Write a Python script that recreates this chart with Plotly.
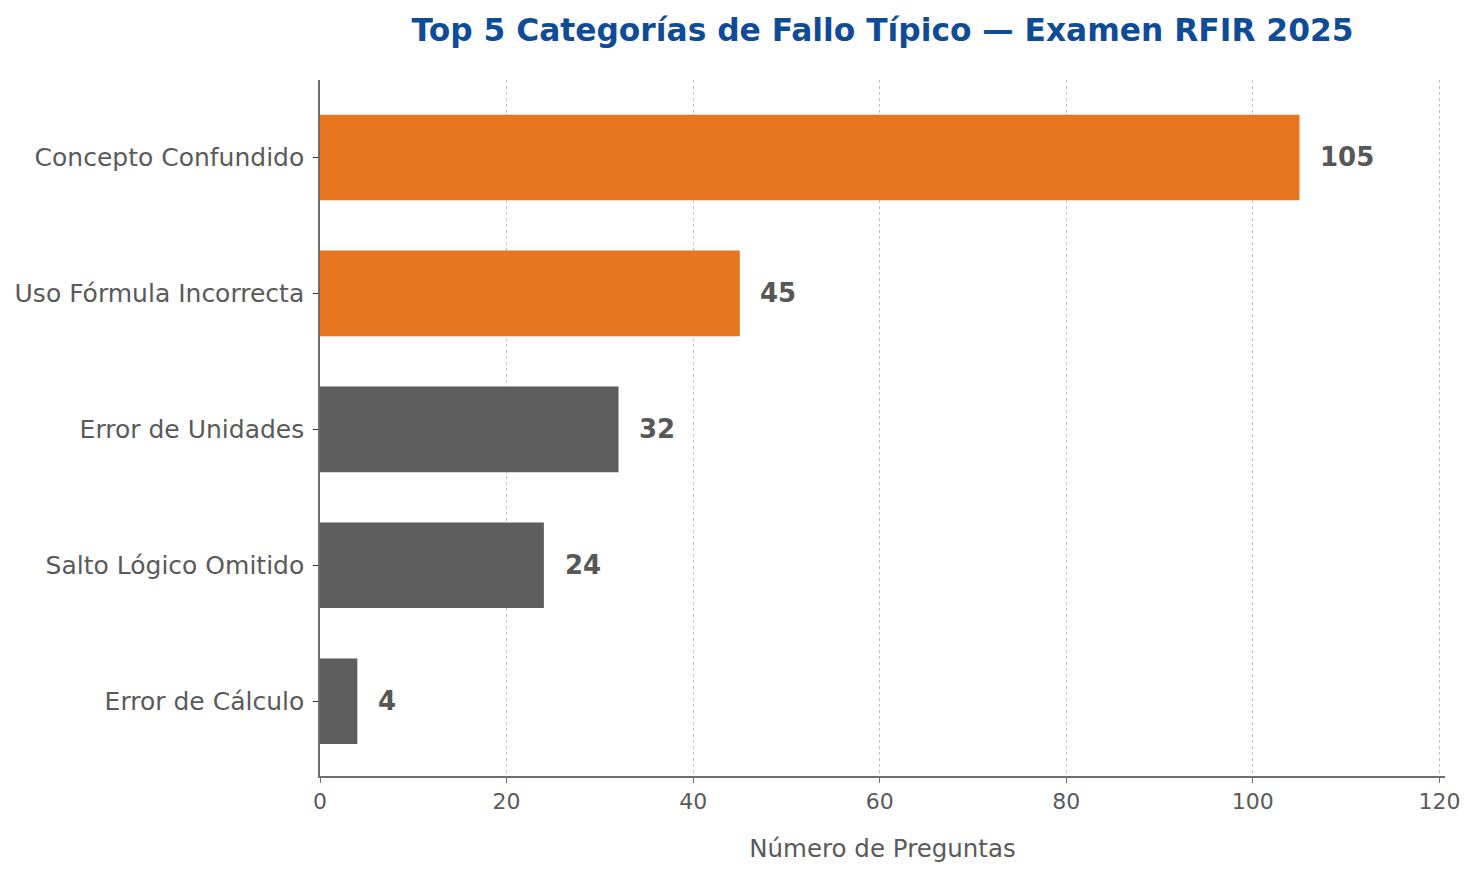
import plotly.graph_objects as go

categories = ["Error de Cálculo", "Salto Lógico Omitido", "Error de Unidades",
              "Uso Fórmula Incorrecta", "Concepto Confundido"]
values = [4, 24, 32, 45, 105]
colors = ["#5d5d5d", "#5d5d5d", "#5d5d5d", "#e87520", "#e87520"]
x_ticks = [0, 20, 40, 60, 80, 100, 120]

FONT = "DejaVu Sans"
TXT = "#5a5a5a"

fig = go.Figure()
fig.add_trace(go.Bar(
    x=values, y=categories, orientation="h",
    marker=dict(color=colors, line=dict(width=0)),
    width=0.63, hoverinfo="skip",
))

for c, v in zip(categories, values):
    fig.add_annotation(x=v + 2, y=c, text=f"<b>{v}</b>", showarrow=False,
                       xanchor="left", yanchor="middle",
                       font=dict(family=FONT, size=26, color="#575757"))

fig.update_layout(
    width=1476, height=876,
    margin=dict(l=320, r=31, t=80, b=100),
    plot_bgcolor="white", paper_bgcolor="white",
    showlegend=False,
    title=dict(text="<b>Top 5 Categorías de Fallo Típico — Examen RFIR 2025</b>",
               x=0.5, xref="paper", xanchor="center", y=0.966, yanchor="middle",
               font=dict(family=FONT, size=31.3, color="#0f4c97")),
    font=dict(family=FONT, color=TXT),
)
fig.update_xaxes(
    range=[0, 120.6], tickvals=x_ticks,
    showgrid=True, gridcolor="#c0c0c0", griddash="dot", gridwidth=1.3,
    showline=True, linecolor="#6e6e6e", linewidth=1.5,
    ticks="outside", ticklen=5, tickcolor="#6e6e6e", tickwidth=1.2,
    tickfont=dict(family=FONT, size=22, color=TXT),
    title=dict(text="Número de Preguntas", font=dict(family=FONT, size=24.5, color=TXT), standoff=27),
    zeroline=False,
)
fig.update_yaxes(
    range=[-0.55, 4.57],
    showgrid=False,
    showline=True, linecolor="#6e6e6e", linewidth=1.5,
    ticks="outside", ticklen=5, tickcolor="#333333", tickwidth=1.2,
    tickfont=dict(family=FONT, size=25, color=TXT),
    ticklabelstandoff=4,
)

fig.write_html("out.html")
